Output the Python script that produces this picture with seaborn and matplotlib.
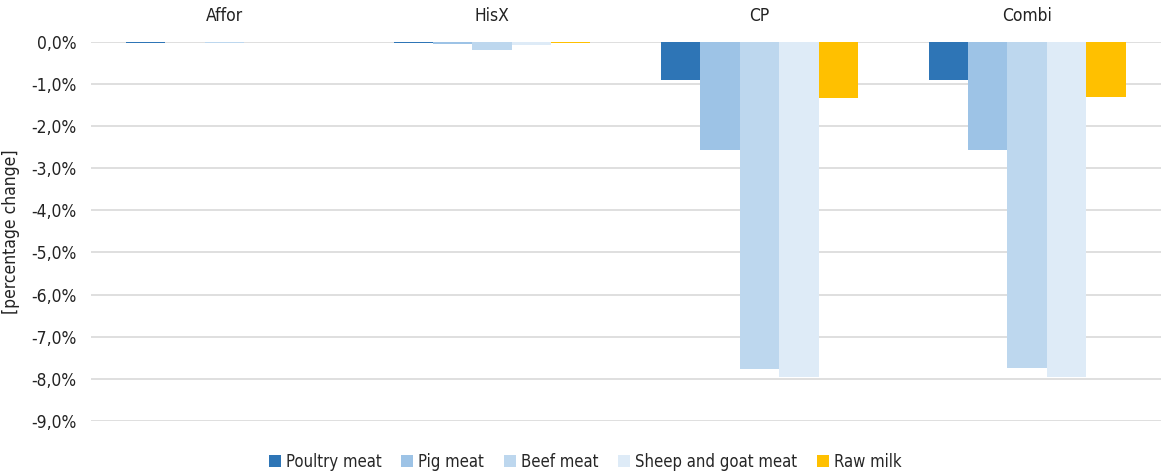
import matplotlib
matplotlib.use("Agg")
import matplotlib.pyplot as plt
import seaborn as sns
import pandas as pd
from matplotlib.ticker import FuncFormatter

scenarios = ["Affor", "HisX", "CP", "Combi"]
products = ["Poultry meat", "Pig meat", "Beef meat", "Sheep and goat meat", "Raw milk"]
# percentage change per product, one list per scenario
affor = [-0.025, -0.005, -0.025, -0.015, 0.0]
hisx = [-0.04, -0.06, -0.20, -0.07, -0.03]
cp = [-0.91, -2.58, -7.77, -7.96, -1.33]
combi = [-0.90, -2.57, -7.75, -7.96, -1.31]
colors = ["#2E75B6", "#9DC3E6", "#BDD7EE", "#DEEBF7", "#FFC000"]

rows = []
for scen, vals in zip(scenarios, [affor, hisx, cp, combi]):
    for prod, v in zip(products, vals):
        rows.append({"scenario": scen, "product": prod, "value": v})
df = pd.DataFrame(rows)

sns.set_theme(style="white")
plt.rcParams["font.family"] = ["DejaVu Sans"]
plt.rcParams["font.stretch"] = "condensed"

fig = plt.figure(figsize=(11.62, 4.73), dpi=100)
ax = fig.add_axes([0.078, 0.11, 0.921, 0.802])

sns.barplot(data=df, x="scenario", y="value", hue="product", order=scenarios,
            hue_order=products, palette=colors, width=0.736, saturation=1,
            ax=ax, zorder=3, linewidth=0)

ax.set_ylim(-9, 0)
ax.set_yticks([i * -1.0 for i in range(10)])


def pct(v, _):
    v = 0.0 if abs(v) < 1e-9 else v
    return f"{v:.1f}%".replace(".", ",")


ax.yaxis.set_major_formatter(FuncFormatter(pct))
ax.grid(axis="y", color="#D9D9D9", linewidth=1.2, zorder=0)
ax.set_axisbelow(True)
for s in ax.spines.values():
    s.set_visible(False)

ax.xaxis.tick_top()
ax.tick_params(axis="x", length=0, pad=12, labelsize=12.5, colors="#222222")
ax.tick_params(axis="y", length=0, pad=10, labelsize=12.5, colors="#222222")
ax.set_xlabel("")
ax.set_ylabel("[percentage change]", fontsize=12.5, color="#222222", labelpad=8)

ax.legend(loc="upper center", bbox_to_anchor=(0.462, -0.045), ncol=5, frameon=False,
          fontsize=12, handlelength=0.7, handleheight=0.7, handletextpad=0.3,
          columnspacing=1.2)

fig.savefig("out.png", dpi=100)
